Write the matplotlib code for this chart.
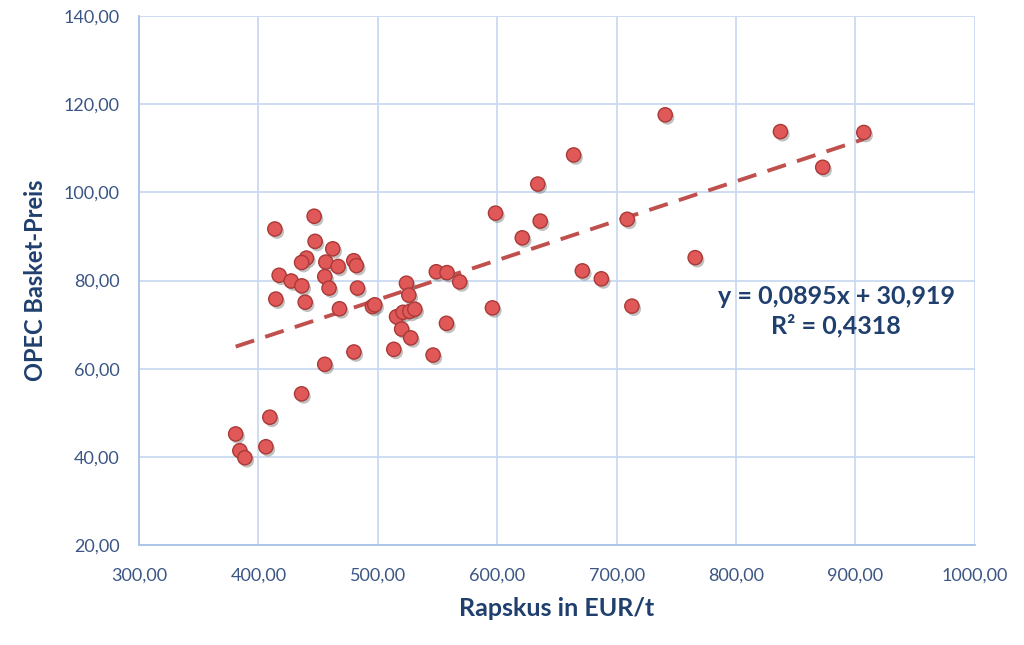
import matplotlib.pyplot as plt
import matplotlib.patheffects as pe
from matplotlib.ticker import FuncFormatter
import numpy as np

# Rapskus (EUR/t) vs OPEC Basket-Preis
rapskus = [
    381.0, 384.5, 388.7, 406.3, 409.6, 436.2, 455.6, 480.0, 513.4, 546.3,
    557.5, 596.0, 413.8, 446.7, 447.5, 462.3, 440.3, 436.2, 456.5, 466.8,
    479.9, 482.1, 417.4, 427.5, 436.4, 455.6, 459.2, 483.0, 414.6, 439.2,
    467.9, 495.5, 497.5, 524.0, 526.0, 515.7, 521.2, 526.8, 531.0, 520.0,
    527.6, 549.0, 558.0, 568.6, 598.6, 621.0, 636.0, 634.0, 664.0, 671.3,
    687.2, 708.9, 712.8, 740.7, 765.8, 837.2, 872.6, 907.0,
]
opec = [
    45.2, 41.4, 39.8, 42.3, 49.0, 54.3, 61.0, 63.8, 64.4, 63.1,
    70.3, 73.8, 91.7, 94.6, 88.9, 87.2, 85.1, 84.1, 84.2, 83.2,
    84.5, 83.4, 81.2, 79.9, 78.8, 80.9, 78.3, 78.3, 75.8, 75.1,
    73.6, 74.1, 74.5, 79.4, 76.7, 71.8, 72.8, 73.0, 73.5, 69.0,
    67.0, 82.0, 81.8, 79.7, 95.3, 89.7, 93.5, 101.9, 108.5, 82.2,
    80.4, 93.9, 74.2, 117.6, 85.2, 113.8, 105.7, 113.6,
]

# trendline as stated in the chart
slope = 0.0895
intercept = 30.919
r_squared = 0.4318

x_ticks = [300, 400, 500, 600, 700, 800, 900, 1000]
y_ticks = [20, 40, 60, 80, 100, 120, 140]

plt.rcParams["font.family"] = ["Lato", "DejaVu Sans"]

tick_color = "#3B5584"
label_color = "#1F3F6E"
grid_color = "#C9DAF0"


def comma_fmt(v, pos):
    return f"{v:.2f}".replace(".", ",")


fig = plt.figure(figsize=(10.24, 6.45), dpi=100)
ax = fig.add_axes([0.1357, 0.155, 0.952 - 0.1357, 0.975 - 0.155])

ax.set_xlim(300, 1000)
ax.set_ylim(20, 140)
ax.set_xticks(x_ticks)
ax.set_yticks(y_ticks)
ax.xaxis.set_major_formatter(FuncFormatter(comma_fmt))
ax.yaxis.set_major_formatter(FuncFormatter(comma_fmt))
ax.grid(True, color=grid_color, linewidth=1.3)
ax.set_axisbelow(True)
for side in ["top", "right"]:
    ax.spines[side].set_visible(False)
for side in ["left", "bottom"]:
    ax.spines[side].set_color("#A8C2E8")
    ax.spines[side].set_linewidth(1.3)
ax.tick_params(length=0, colors=tick_color, labelsize=13)
ax.tick_params(axis="x", pad=16)
ax.tick_params(axis="y", pad=14)

# trendline
x_fit = np.array([min(rapskus), max(rapskus)])
ax.plot(x_fit, slope * x_fit + intercept, color="#C0504D", linewidth=2.8,
        linestyle=(0, (5, 3)), zorder=3)

sc = ax.scatter(rapskus, opec, s=105, color="#E05858", edgecolors="#A93A38",
                linewidths=1.0, zorder=4)
sc.set_path_effects([
    pe.SimplePatchShadow(offset=(1.5, -2), shadow_rgbFace="#777777", alpha=0.45),
    pe.Normal(),
])

eq = f"y = {slope:.4f}x + {intercept:.3f}".replace(".", ",")
r2 = f"R² = {r_squared:.4f}".replace(".", ",")
ax.text(884, 73, eq + "\n" + r2, ha="center", va="center", multialignment="center",
        fontsize=18, fontweight="bold", color=label_color, linespacing=1.3, zorder=5)

ax.set_xlabel("Rapskus in EUR/t", fontsize=18, fontweight="bold", color=label_color,
              labelpad=10)
ax.set_ylabel("OPEC Basket-Preis", fontsize=17, fontweight="bold", color=label_color,
              labelpad=12)

fig.savefig("out.png", dpi=100)
